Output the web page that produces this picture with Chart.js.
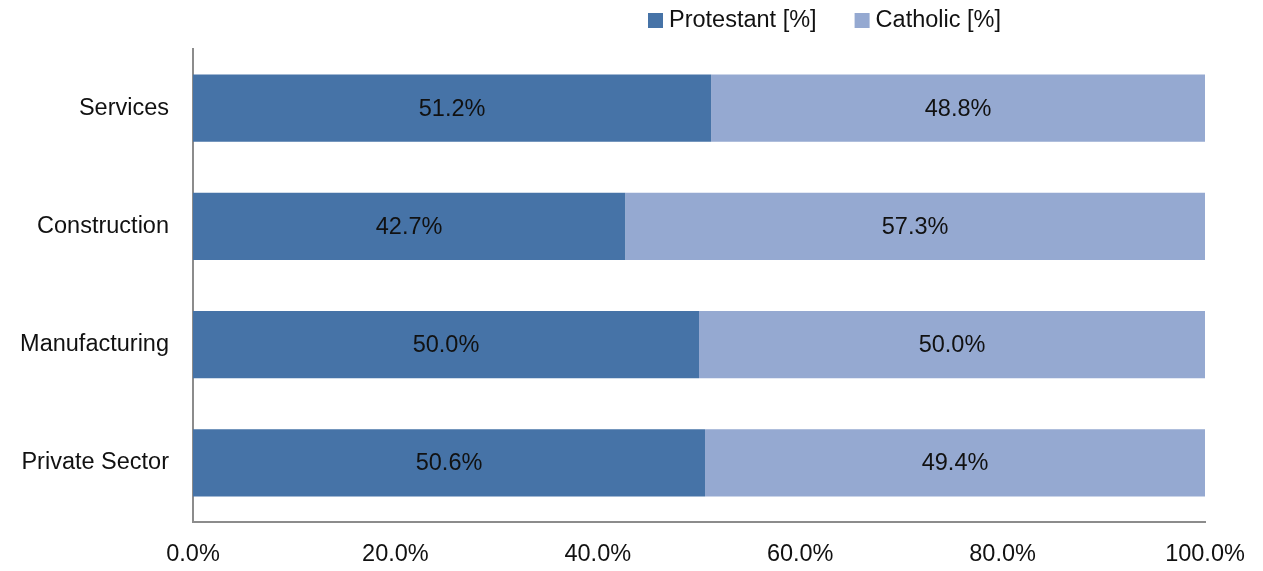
<!DOCTYPE html>
<html>
<head>
<meta charset="utf-8">
<title>Protestant vs Catholic share by sector</title>
<script src="https://cdn.jsdelivr.net/npm/chart.js@4.4.1/dist/chart.umd.min.js"></script>
<style>
  html, body { margin: 0; padding: 0; background: #fff; }
  #wrap { position: relative; width: 1263px; height: 571px; }
</style>
</head>
<body>
<div id="wrap"><canvas id="chart"></canvas></div>
<script>
// dados
const sectors = ['Services', 'Construction', 'Manufacturing', 'Private Sector'];
const protestantPct = [51.2, 42.7, 50.0, 50.6];
const catholicPct = [48.8, 57.3, 50.0, 49.4];
const seriesNames = ['Protestant [%]', 'Catholic [%]'];
const xTicks = [0, 20, 40, 60, 80, 100];

const FONT = '"Liberation Sans", Arial, sans-serif';
const FONT_SIZE = 23.5;
const darkBlue = '#4673a7';
const lightBlue = '#95a9d1';

// rótulos dentro das barras
const barLabels = {
    id: 'barLabels',
    afterDatasetsDraw(chart) {
        const ctx = chart.ctx;
        ctx.save();
        ctx.font = FONT_SIZE + 'px ' + FONT;
        ctx.fillStyle = '#111';
        ctx.textAlign = 'center';
        ctx.textBaseline = 'middle';
        chart.data.datasets.forEach((ds, i) => {
            const meta = chart.getDatasetMeta(i);
            meta.data.forEach((bar, j) => {
                const cx = (bar.x + bar.base) / 2;
                ctx.fillText(ds.data[j].toFixed(1) + '%', cx, bar.y + 1);
            });
        });
        ctx.restore();
    }
};

// legenda desenhada à mão (fica deslocada para a direita no original)
const topLegend = {
    id: 'topLegend',
    afterDraw(chart) {
        const ctx = chart.ctx;
        ctx.save();
        ctx.font = FONT_SIZE + 'px ' + FONT;
        ctx.textBaseline = 'middle';
        let x = 648;
        const y = 20;
        chart.data.datasets.forEach(ds => {
            ctx.fillStyle = ds.backgroundColor;
            ctx.fillRect(x, y - 7, 15, 15);
            ctx.fillStyle = '#111';
            ctx.textAlign = 'left';
            ctx.fillText(ds.label, x + 21, y + 1);
            x += 21 + ctx.measureText(ds.label).width + 38;
        });
        ctx.restore();
    }
};

const config = {
    type: 'bar',
    data: {
        labels: sectors,
        datasets: [
            { label: seriesNames[0], data: protestantPct, backgroundColor: darkBlue },
            { label: seriesNames[1], data: catholicPct, backgroundColor: lightBlue }
        ]
    },
    options: {
        indexAxis: 'y',
        responsive: true,
        maintainAspectRatio: false,
        animation: false,
        barPercentage: 0.57,
        categoryPercentage: 1,
        layout: { padding: { top: 49, right: 58, left: 0, bottom: 0 } },
        plugins: {
            legend: { display: false },
            tooltip: { enabled: false }
        },
        scales: {
            x: {
                stacked: true,
                min: 0,
                max: 100,
                afterBuildTicks: s => { s.ticks = xTicks.map(v => ({ value: v })); },
                afterFit: s => { s.height = 49; },
                grid: { display: false, drawTicks: false },
                border: { display: true, color: '#8c8c8c', width: 2 },
                ticks: {
                    padding: 18,
                    color: '#111',
                    font: { family: FONT, size: FONT_SIZE },
                    callback: v => v.toFixed(1) + '%'
                }
            },
            y: {
                stacked: true,
                afterFit: s => { s.width = 193; },
                grid: { display: false, drawTicks: false },
                border: { display: true, color: '#8c8c8c', width: 2 },
                ticks: {
                    padding: 24,
                    color: '#111',
                    font: { family: FONT, size: FONT_SIZE }
                }
            }
        }
    },
    plugins: [barLabels, topLegend]
};

new Chart(document.getElementById('chart'), config);
</script>
</body>
</html>
